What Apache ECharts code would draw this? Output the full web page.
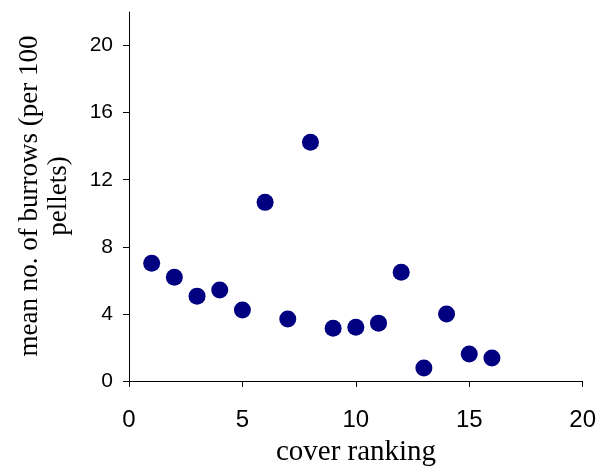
<!DOCTYPE html>
<html><head><meta charset="utf-8">
<script src="https://cdn.jsdelivr.net/npm/echarts@6/dist/echarts.min.js"></script>
<style>html,body{margin:0;padding:0;background:#fff}#c{width:599px;height:468px}</style>
</head><body><div id="c"></div>
<script>
var coverRanking = [1,2,3,4,5,6,7,8,9,10,11,12,13,14,15,16];
var meanBurrows = [7.02,6.19,5.06,5.42,4.23,10.65,3.69,14.23,3.15,3.21,3.45,6.49,0.77,3.99,1.61,1.37];
var xTicks = [0,5,10,15,20];
var yTicks = [0,4,8,12,16,20];
var xTitle = 'cover ranking';
var yTitle = 'mean no. of burrows (per 100\npellets)';

var chart = echarts.init(document.getElementById('c'), null, {renderer:'canvas'});
var lineStyle = {show:true,onZero:false,lineStyle:{color:'#000',width:1}};
var tick = {show:true,inside:false,length:6,lineStyle:{color:'#000'}};
chart.setOption({
  animation:false,
  grid:{left:129,right:16,top:12,bottom:87,containLabel:false},
  xAxis:{
    type:'value',min:0,max:20,interval:5,
    axisLine:lineStyle, splitLine:{show:false},
    axisTick:Object.assign({}, tick, {customValues:xTicks}),
    axisLabel:{customValues:xTicks, margin:27, color:'#000', fontFamily:'Liberation Sans, Arial', fontSize:24}
  },
  yAxis:{
    type:'value',min:0,max:22,
    axisLine:lineStyle, splitLine:{show:false},
    axisTick:Object.assign({}, tick, {customValues:yTicks}),
    axisLabel:{customValues:yTicks, margin:16, color:'#000', fontFamily:'Liberation Sans, Arial', fontSize:21}
  },
  graphic:[
    {type:'text',x:356,y:452,
     style:{text:xTitle,fill:'#000',font:'29px "Liberation Serif", "Times New Roman", serif',align:'center',verticalAlign:'middle'}},
    {type:'text',x:44,y:196,rotation:Math.PI/2,
     style:{text:yTitle,fill:'#000',font:'27px "Liberation Serif", "Times New Roman", serif',align:'center',verticalAlign:'middle',lineHeight:29}}
  ],
  series:[{
    type:'scatter',
    data:coverRanking.map(function(x,i){return [x,meanBurrows[i]];}),
    symbolSize:17,
    itemStyle:{color:'#000080',opacity:1}
  }]
});
</script></body></html>
